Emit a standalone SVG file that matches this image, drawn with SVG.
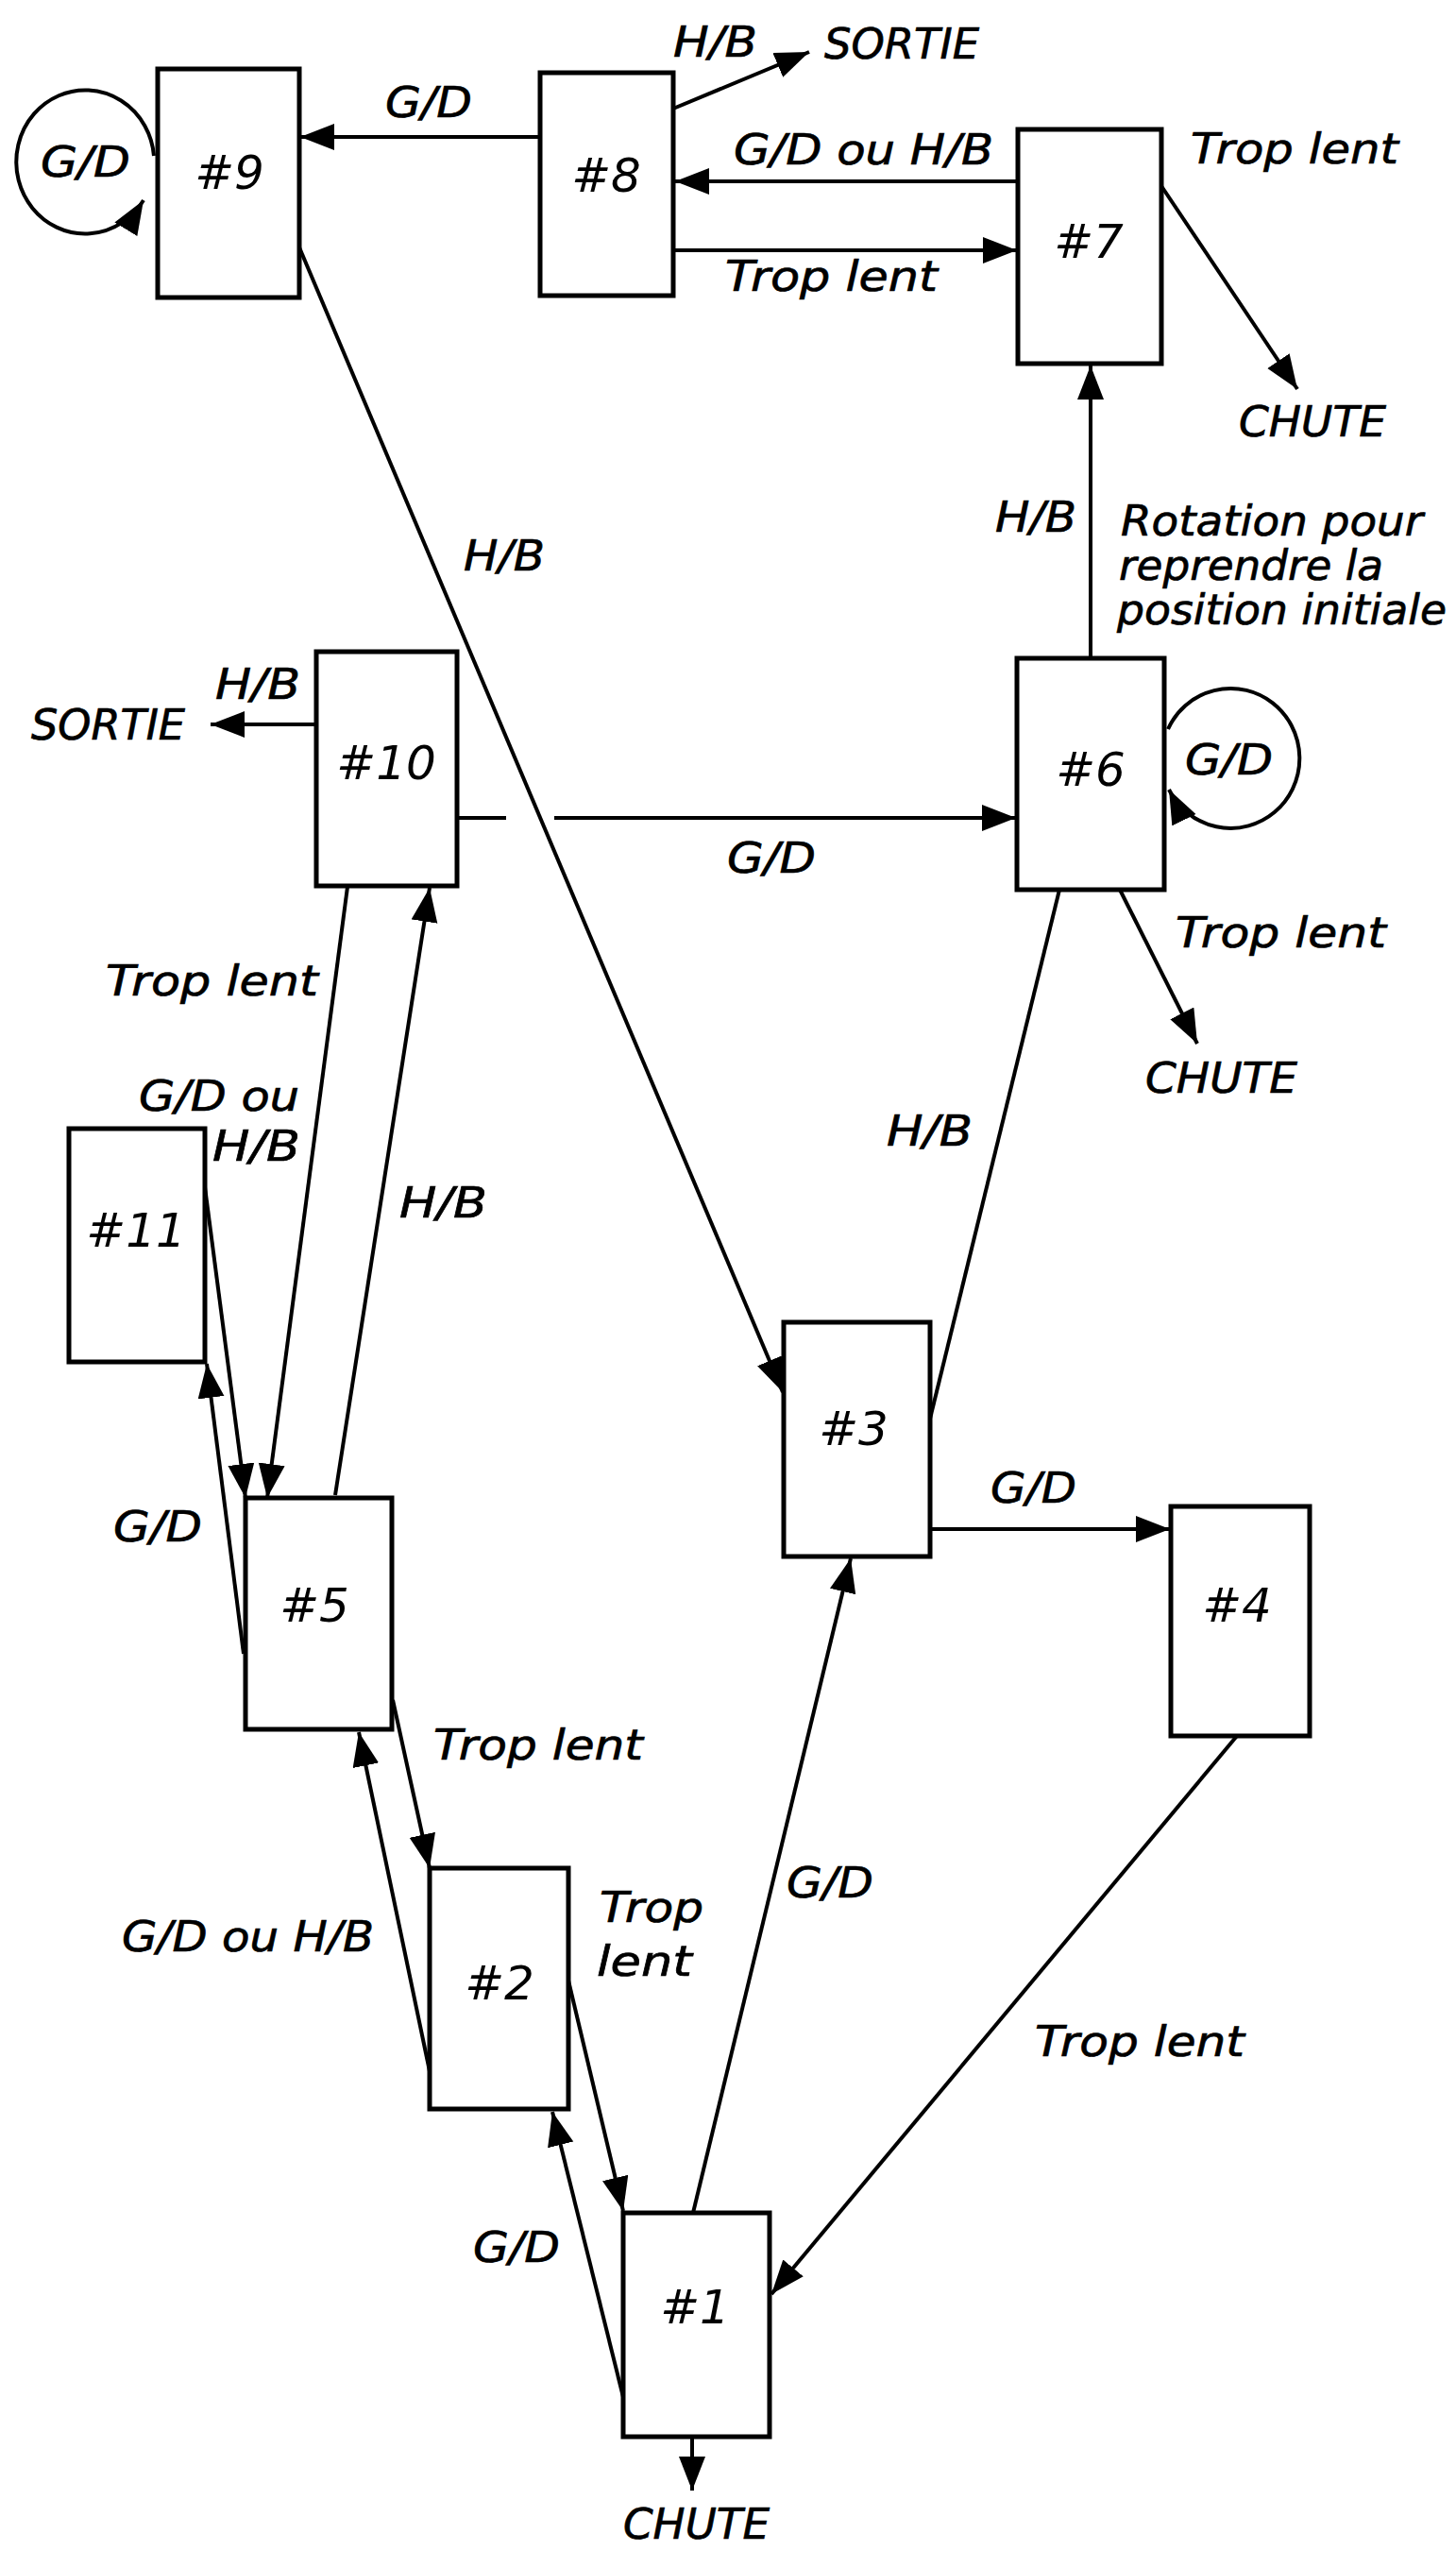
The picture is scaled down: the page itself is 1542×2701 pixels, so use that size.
<svg xmlns="http://www.w3.org/2000/svg" width="1542" height="2701" viewBox="0 0 1542 2701">
<style>
.box{fill:#fff;stroke:#000;stroke-width:5}
.edge{fill:none;stroke:#000;stroke-width:4}
.lbl{font-family:"DejaVu Sans",sans-serif;font-style:italic;font-size:44px;fill:#000;stroke:#000;stroke-width:0.7}
.num{font-family:"DejaVu Sans",sans-serif;font-style:italic;font-size:50px;fill:#000;text-anchor:middle}
</style>
<defs>
<marker id="ah" markerUnits="userSpaceOnUse" markerWidth="40" markerHeight="30" refX="36" refY="14" orient="auto">
<path d="M0,0 L36,14 L0,28 z" fill="#000"/>
</marker>
</defs>
<rect width="1542" height="2701" fill="#fff"/>
<g id="connectors">
<path class="edge" d="M571,145 L318,145" marker-end="url(#ah)"/>
<path class="edge" d="M713,115 L857,55" marker-end="url(#ah)"/>
<path class="edge" d="M1077,192 L715,192" marker-end="url(#ah)"/>
<path class="edge" d="M713,265 L1077,265" marker-end="url(#ah)"/>
<path class="edge" d="M1230,197 L1374,412" marker-end="url(#ah)"/>
<path class="edge" d="M1155,697 L1155,387" marker-end="url(#ah)"/>
<path class="edge" d="M163,165 A73 76 0 1 0 152,212" marker-end="url(#ah)"/>
<path class="edge" d="M317,262 L829,1474" marker-end="url(#ah)"/>
<path class="edge" d="M335,767 L223,767" marker-end="url(#ah)"/>
<path class="edge" d="M484,866 L536,866"/>
<path class="edge" d="M587,866 L1076,866" marker-end="url(#ah)"/>
<path class="edge" d="M1237,772 A73 74 0 1 1 1238,836" marker-end="url(#ah)"/>
<path class="edge" d="M1186,942 L1268,1105" marker-end="url(#ah)"/>
<path class="edge" d="M1122,942 L985,1502"/>
<path class="edge" d="M368,939 L283,1586" marker-end="url(#ah)"/>
<path class="edge" d="M355,1583 L455,940" marker-end="url(#ah)"/>
<path class="edge" d="M217,1257 L260,1586" marker-end="url(#ah)"/>
<path class="edge" d="M258,1751 L219,1444" marker-end="url(#ah)"/>
<path class="edge" d="M416,1800 L455,1978" marker-end="url(#ah)"/>
<path class="edge" d="M455,2193 L380,1834" marker-end="url(#ah)"/>
<path class="edge" d="M985,1619 L1239,1619" marker-end="url(#ah)"/>
<path class="edge" d="M734,2343 L901,1650" marker-end="url(#ah)"/>
<path class="edge" d="M1310,1838 L817,2429" marker-end="url(#ah)"/>
<path class="edge" d="M602,2097 L660,2341" marker-end="url(#ah)"/>
<path class="edge" d="M660,2538 L585,2236" marker-end="url(#ah)"/>
<path class="edge" d="M733,2580 L733,2637" marker-end="url(#ah)"/>
</g>
<g id="node9"><rect class="box" x="167" y="73" width="150" height="242"/><text class="num" x="243" y="200">#9</text></g>
<g id="node8"><rect class="box" x="572" y="77" width="141" height="236"/><text class="num" x="642" y="203">#8</text></g>
<g id="node7"><rect class="box" x="1078" y="137" width="152" height="248"/><text class="num" x="1153" y="273">#7</text></g>
<g id="node6"><rect class="box" x="1077" y="697" width="156" height="245"/><text class="num" x="1155" y="832">#6</text></g>
<g id="node10"><rect class="box" x="335" y="690" width="149" height="248"/><text class="num" x="409" y="825">#10</text></g>
<g id="node11"><rect class="box" x="73" y="1195" width="144" height="247"/><text class="num" x="144" y="1320">#11</text></g>
<g id="node5"><rect class="box" x="260" y="1586" width="155" height="245"/><text class="num" x="333" y="1717">#5</text></g>
<g id="node3"><rect class="box" x="830" y="1400" width="155" height="248"/><text class="num" x="904" y="1530">#3</text></g>
<g id="node4"><rect class="box" x="1240" y="1595" width="147" height="243"/><text class="num" x="1310" y="1717">#4</text></g>
<g id="node2"><rect class="box" x="455" y="1978" width="147" height="255"/><text class="num" x="529" y="2117">#2</text></g>
<g id="node1"><rect class="box" x="660" y="2343" width="155" height="237"/><text class="num" x="736" y="2460">#1</text></g>
<g id="labels">
<text class="lbl" x="408" y="124" textLength="92" lengthAdjust="spacingAndGlyphs">G/D</text>
<text class="lbl" x="713" y="60" textLength="89" lengthAdjust="spacingAndGlyphs">H/B</text>
<text class="lbl" x="873" y="62" textLength="164" lengthAdjust="spacingAndGlyphs">SORTIE</text>
<text class="lbl" x="777" y="174" textLength="275" lengthAdjust="spacingAndGlyphs">G/D ou H/B</text>
<text class="lbl" x="768" y="308" textLength="225" lengthAdjust="spacingAndGlyphs">Trop lent</text>
<text class="lbl" x="1261" y="173" textLength="220" lengthAdjust="spacingAndGlyphs">Trop lent</text>
<text class="lbl" x="1312" y="462" textLength="156" lengthAdjust="spacingAndGlyphs">CHUTE</text>
<text class="lbl" x="1054" y="563" textLength="86" lengthAdjust="spacingAndGlyphs">H/B</text>
<text class="lbl" x="1187" y="567" textLength="320" lengthAdjust="spacingAndGlyphs">Rotation pour</text>
<text class="lbl" x="1185" y="614" textLength="280" lengthAdjust="spacingAndGlyphs">reprendre la</text>
<text class="lbl" x="1183" y="661" textLength="349" lengthAdjust="spacingAndGlyphs">position initiale</text>
<text class="lbl" x="43" y="187" textLength="95" lengthAdjust="spacingAndGlyphs">G/D</text>
<text class="lbl" x="1255" y="820" textLength="93" lengthAdjust="spacingAndGlyphs">G/D</text>
<text class="lbl" x="491" y="604" textLength="86" lengthAdjust="spacingAndGlyphs">H/B</text>
<text class="lbl" x="33" y="783" textLength="163" lengthAdjust="spacingAndGlyphs">SORTIE</text>
<text class="lbl" x="228" y="740" textLength="90" lengthAdjust="spacingAndGlyphs">H/B</text>
<text class="lbl" x="770" y="924" textLength="94" lengthAdjust="spacingAndGlyphs">G/D</text>
<text class="lbl" x="1245" y="1003" textLength="223" lengthAdjust="spacingAndGlyphs">Trop lent</text>
<text class="lbl" x="1213" y="1157" textLength="161" lengthAdjust="spacingAndGlyphs">CHUTE</text>
<text class="lbl" x="939" y="1213" textLength="91" lengthAdjust="spacingAndGlyphs">H/B</text>
<text class="lbl" x="112" y="1054" textLength="225" lengthAdjust="spacingAndGlyphs">Trop lent</text>
<text class="lbl" x="147" y="1176" textLength="170" lengthAdjust="spacingAndGlyphs">G/D ou</text>
<text class="lbl" x="225" y="1229" textLength="93" lengthAdjust="spacingAndGlyphs">H/B</text>
<text class="lbl" x="423" y="1289" textLength="93" lengthAdjust="spacingAndGlyphs">H/B</text>
<text class="lbl" x="120" y="1632" textLength="94" lengthAdjust="spacingAndGlyphs">G/D</text>
<text class="lbl" x="1049" y="1591" textLength="91" lengthAdjust="spacingAndGlyphs">G/D</text>
<text class="lbl" x="459" y="1863" textLength="222" lengthAdjust="spacingAndGlyphs">Trop lent</text>
<text class="lbl" x="129" y="2066" textLength="267" lengthAdjust="spacingAndGlyphs">G/D ou H/B</text>
<text class="lbl" x="635" y="2035" textLength="110" lengthAdjust="spacingAndGlyphs">Trop</text>
<text class="lbl" x="632" y="2092" textLength="101" lengthAdjust="spacingAndGlyphs">lent</text>
<text class="lbl" x="833" y="2009" textLength="92" lengthAdjust="spacingAndGlyphs">G/D</text>
<text class="lbl" x="1096" y="2177" textLength="222" lengthAdjust="spacingAndGlyphs">Trop lent</text>
<text class="lbl" x="501" y="2395" textLength="92" lengthAdjust="spacingAndGlyphs">G/D</text>
<text class="lbl" x="660" y="2688" textLength="155" lengthAdjust="spacingAndGlyphs">CHUTE</text>
</g>
</svg>
